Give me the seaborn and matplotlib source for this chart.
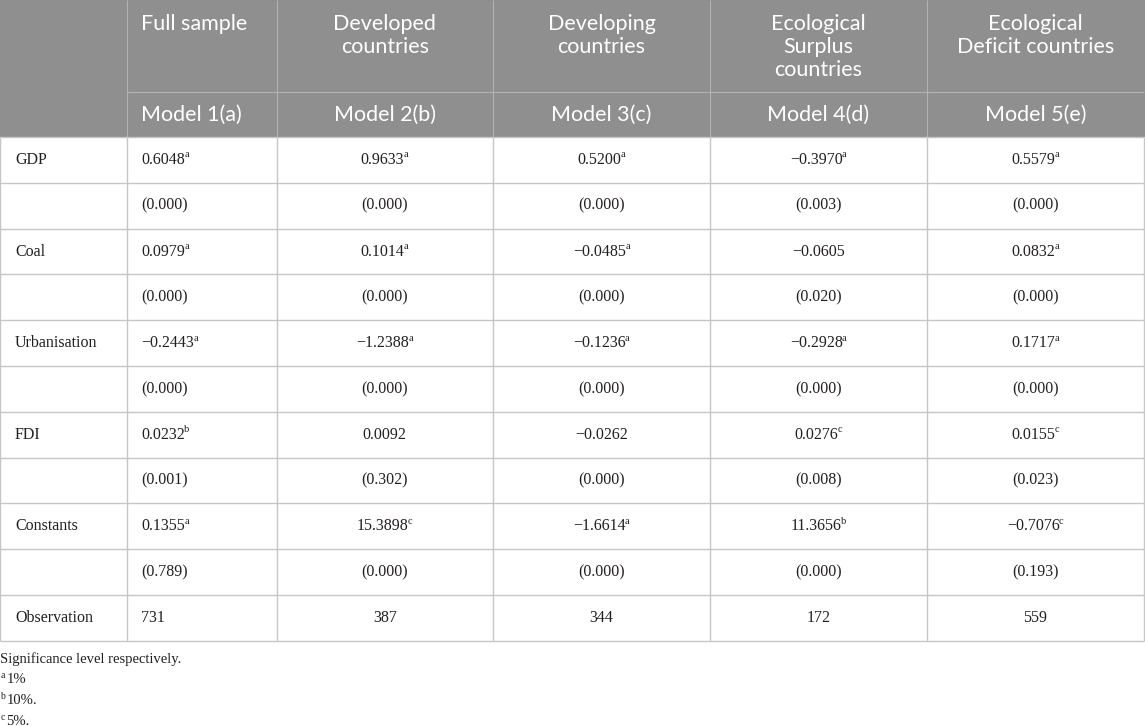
import matplotlib
matplotlib.use("Agg")
import matplotlib.pyplot as plt
import seaborn as sns

# table content
groups = ["Full sample", "Developed\ncountries", "Developing\ncountries",
          "Ecological\nSurplus\ncountries", "Ecological\nDeficit countries"]
models = ["Model 1(a)", "Model 2(b)", "Model 3(c)", "Model 4(d)", "Model 5(e)"]
row_labels = ["GDP", "", "Coal", "", "Urbanisation", "", "FDI", "", "Constants", "", "Observation"]

gdp = ["0.6048", "0.9633", "0.5200", "\u22120.3970", "0.5579"]
gdp_sig = ["a", "a", "a", "a", "a"]
gdp_p = ["(0.000)", "(0.000)", "(0.000)", "(0.003)", "(0.000)"]
coal = ["0.0979", "0.1014", "\u22120.0485", "\u22120.0605", "0.0832"]
coal_sig = ["a", "a", "a", "", "a"]
coal_p = ["(0.000)", "(0.000)", "(0.000)", "(0.020)", "(0.000)"]
urban = ["\u22120.2443", "\u22121.2388", "\u22120.1236", "\u22120.2928", "0.1717"]
urban_sig = ["a", "a", "a", "a", "a"]
urban_p = ["(0.000)", "(0.000)", "(0.000)", "(0.000)", "(0.000)"]
fdi = ["0.0232", "0.0092", "\u22120.0262", "0.0276", "0.0155"]
fdi_sig = ["b", "", "", "c", "c"]
fdi_p = ["(0.001)", "(0.302)", "(0.000)", "(0.008)", "(0.023)"]
const = ["0.1355", "15.3898", "\u22121.6614", "11.3656", "\u22120.7076"]
const_sig = ["a", "c", "a", "b", "c"]
const_p = ["(0.789)", "(0.000)", "(0.000)", "(0.000)", "(0.193)"]
obs = ["731", "387", "344", "172", "559"]

footnotes = [("", "Significance level respectively."), ("a", "1%"), ("b", "10%."), ("c", "5%.")]

body = [
    (gdp, gdp_sig), (gdp_p, None),
    (coal, coal_sig), (coal_p, None),
    (urban, urban_sig), (urban_p, None),
    (fdi, fdi_sig), (fdi_p, None),
    (const, const_sig), (const_p, None),
    (obs, None),
]

# layout (pixels)
W, H = 1145, 726
col_edges = [0, 126.5, 276.5, 493, 710, 927, 1144]
head1_bottom = 92
head2_bottom = 137
row_h = 45.8
body_bottom = head2_bottom + row_h * len(row_labels)

head_bg = "#8f8f8f"
head_line = "#b3b3b3"
grid = "#c6c6c6"
ink = "#231f20"
head_font = "Lato"
body_font = "Liberation Serif"
body_size = 11.5
sup_size = 7.5

sns.set_theme(style="white")
fig = plt.figure(figsize=(W / 100, H / 100), dpi=100)
ax = fig.add_axes([0, 0, 1, 1])
ax.set_xlim(0, W)
ax.set_ylim(H, 0)
ax.axis("off")

# header background
ax.axhspan(0, head2_bottom, color=head_bg, lw=0)
ax.hlines(head1_bottom, col_edges[1], col_edges[-1], color=head_line, lw=0.8)
ax.vlines(col_edges[1:-1], 0, head2_bottom, color=head_line, lw=0.8)

# body grid
for i in range(len(row_labels) + 1):
    ax.hlines(head2_bottom + i * row_h, 0, col_edges[-1], color=grid, lw=1.0)
ax.vlines(col_edges, head2_bottom, body_bottom, color=grid, lw=1.0)

# header text
for j, (g, m) in enumerate(zip(groups, models)):
    left, right = col_edges[j + 1], col_edges[j + 2]
    if j == 0:
        x, ha = left + 14.5, "left"
    else:
        x, ha = (left + right) / 2, "center"
    for k, line in enumerate(g.split("\n")):
        ax.text(x, 24 + k * 23, line, ha=ha, va="center", color="white",
                fontsize=15.5, family=head_font)
    ax.text(x, 115, m, ha=ha, va="center", color="white", fontsize=15.5, family=head_font)

fig.canvas.draw()
renderer = fig.canvas.get_renderer()
inv = ax.transData.inverted()

def width_of(t):
    bb = t.get_window_extent(renderer=renderer)
    a = inv.transform((bb.x0, bb.y0))[0]
    b = inv.transform((bb.x1, bb.y1))[0]
    return a, b

def put_value(x, y, s, sig, ha):
    t = ax.text(x, y, s, ha=ha, va="center", color=ink, fontsize=body_size, family=body_font)
    if sig:
        st = ax.text(0, y - 5, sig, ha="left", va="center", color=ink,
                     fontsize=sup_size, family=body_font)
        s0, s1 = width_of(st)
        sw = s1 - s0
        if ha == "center":
            # keep value + superscript centred as one group
            t.set_x(x - sw / 2)
        x0, x1 = width_of(t)
        st.set_x(x1 - 0.5)

# body text
for i, (lab, (vals, sigs)) in enumerate(zip(row_labels, body)):
    yc = head2_bottom + (i + 0.5) * row_h
    if lab:
        ax.text(15, yc, lab, ha="left", va="center", color=ink, fontsize=body_size, family=body_font)
    for j, v in enumerate(vals):
        left, right = col_edges[j + 1], col_edges[j + 2]
        sig = sigs[j] if sigs else ""
        if j == 0:
            put_value(left + 14.5, yc, v, sig, "left")
        else:
            put_value((left + right) / 2, yc, v, sig, "center")

# footnotes
for k, (mark, note) in enumerate(footnotes):
    y = 659 + k * 20.7
    if mark:
        ax.text(0.5, y - 4, mark, ha="left", va="center", color=ink, fontsize=7, family=body_font)
        ax.text(6.5, y, note, ha="left", va="center", color=ink, fontsize=10.5, family=body_font)
    else:
        ax.text(0, y, note, ha="left", va="center", color=ink, fontsize=10.5, family=body_font)

fig.savefig("out.png", dpi=100)
